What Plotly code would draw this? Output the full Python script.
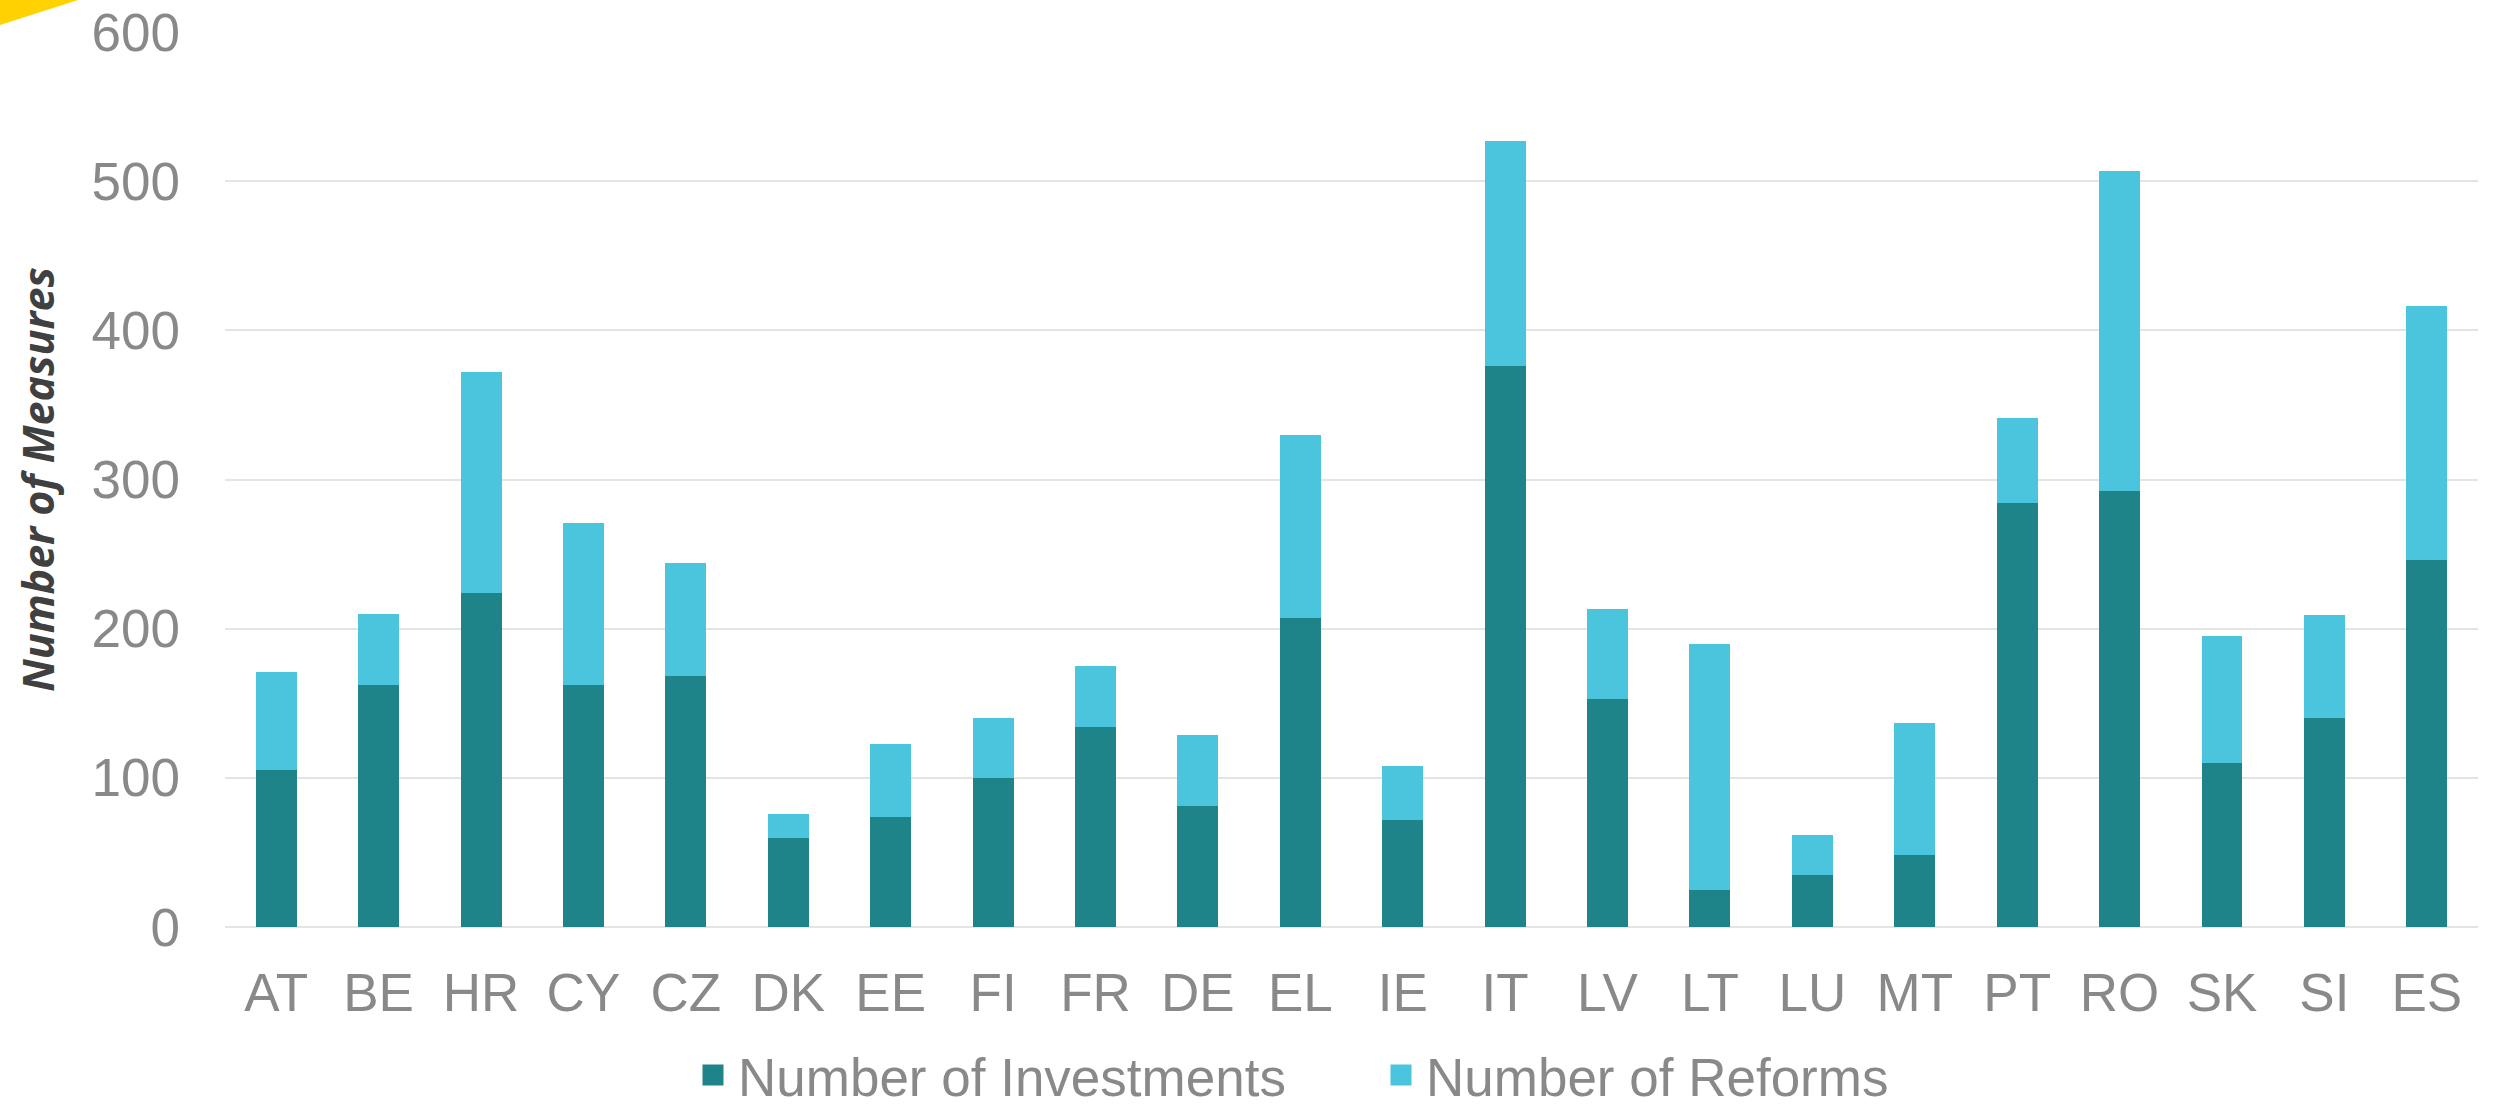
import plotly.graph_objects as go

countries = ["AT", "BE", "HR", "CY", "CZ", "DK", "EE", "FI", "FR", "DE", "EL",
             "IE", "IT", "LV", "LT", "LU", "MT", "PT", "RO", "SK", "SI", "ES"]
investments = [105, 162, 224, 162, 168, 60, 74, 100, 134, 81, 207,
               72, 376, 153, 25, 35, 48, 284, 292, 110, 140, 246]
reforms = [66, 48, 148, 109, 76, 16, 49, 40, 41, 48, 123,
           36, 151, 60, 165, 27, 89, 57, 215, 85, 69, 170]
y_ticks = [0, 100, 200, 300, 400, 500, 600]
series_names = ["Number of Investments", "Number of Reforms"]
series_colors = ["#1E8489", "#4BC4DD"]

W, H = 2503, 1107
ML, MR, MT, MB = 225, 25, 32, 180
PW, PH = W - ML - MR, H - MT - MB

FONT = "Arial, 'Liberation Sans', sans-serif"
GRAY = "#898989"

fig = go.Figure()
for vals, name, color in zip([investments, reforms], series_names, series_colors):
    fig.add_trace(go.Bar(x=countries, y=vals, name=name, showlegend=False,
                         legendgroup=name,
                         marker=dict(color=color, line=dict(width=0))))
# legend entries with larger square swatches
for name, color in zip(series_names, series_colors):
    fig.add_trace(go.Scatter(x=[None], y=[None], mode="markers", name=name,
                             legendgroup=name, hoverinfo="skip",
                             marker=dict(symbol="square", size=16, color=color,
                                         line=dict(width=5, color=color))))


def px(x):
    return (x - ML) / PW


def py(y):
    return (H - MB - y) / PH


yellow_path = "M {:.5f},{:.5f} L {:.5f},{:.5f} L {:.5f},{:.5f} Z".format(
    px(0), py(0), px(78), py(0), px(0), py(25))

fig.update_layout(
    width=W, height=H,
    margin=dict(l=ML, r=MR, t=MT, b=MB, autoexpand=False),
    paper_bgcolor="white", plot_bgcolor="white",
    barmode="stack", bargap=0.6,
    font=dict(family=FONT, size=53, color=GRAY),
    showlegend=True,
    legend=dict(orientation="h", x=px(688), xanchor="left", y=py(1075), yanchor="middle",
                font=dict(family=FONT, size=53, color=GRAY),
                itemwidth=40, entrywidth=633, entrywidthmode="pixels",
                bgcolor="rgba(0,0,0,0)", traceorder="normal", itemclick=False),
    shapes=[dict(type="path", path=yellow_path, xref="paper", yref="paper",
                 fillcolor="#FFD200", line=dict(width=0), layer="above")],
    xaxis=dict(
        type="category", showgrid=False, zeroline=False, showline=False,
        ticks="", ticklabelstandoff=30,
        tickfont=dict(family=FONT, size=53, color=GRAY),
        range=[-0.5, len(countries) - 0.5], automargin=False,
    ),
    yaxis=dict(
        range=[0, 600], tickvals=y_ticks, ticktext=[str(v) for v in y_ticks],
        showgrid=True, gridcolor="#E4E4E4", gridwidth=2,
        zeroline=True, zerolinecolor="#E4E4E4", zerolinewidth=2,
        showline=False, ticks="", ticklabelstandoff=44,
        tickfont=dict(family=FONT, size=53, color=GRAY),
        automargin=False,
        title=dict(text="Number of Measures", standoff=23,
                   font=dict(family="'Open Sans', sans-serif", size=43, color="#404040",
                             weight="bold", style="italic")),
    ),
)

fig.write_html("out.html")
